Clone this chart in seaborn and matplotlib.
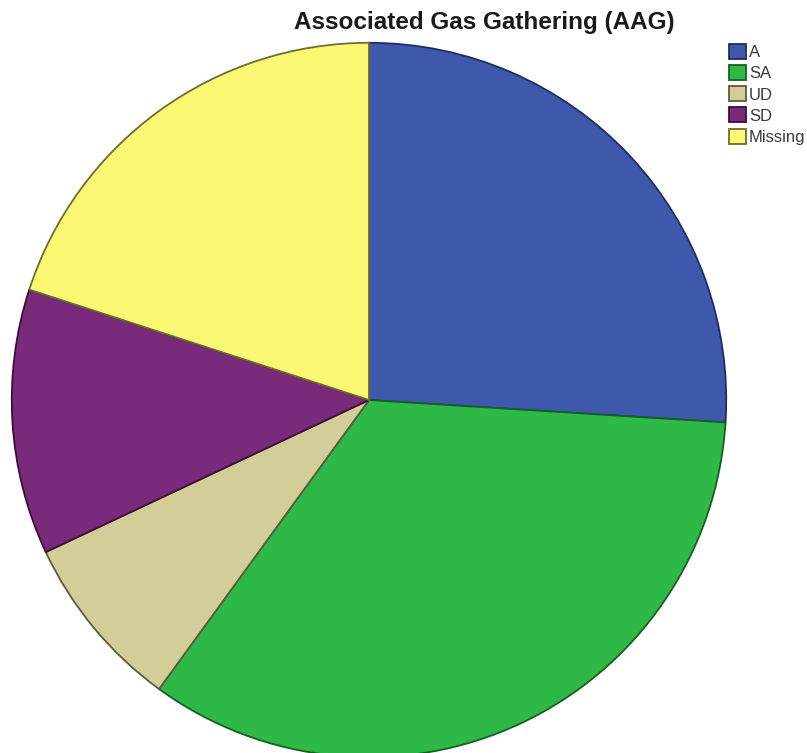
import numpy as np
import pandas as pd
import matplotlib as mpl
import matplotlib.pyplot as plt
import seaborn as sns
sns.set_theme(style="white")

# 数据
categories = ["A", "SA", "UD", "SD", "Missing"]
counts = [13, 17, 4, 6, 10]
fill_colors = ["#3E58AC", "#2EB848", "#D3CE97", "#7A2A7A", "#FBF873"]
edge_colors = ["#1F2C66", "#176024", "#5E5B3C", "#3A0F3A", "#6E6C30"]
title = "Associated Gas Gathering (AAG)"

df = pd.DataFrame({"category": categories, "count": counts})

fig = plt.figure(figsize=(8.07, 7.53), dpi=100)
ax = fig.add_axes([10 / 807, -6 / 753, 718 / 807, 718 / 753])

wedges, _ = ax.pie(df["count"], colors=fill_colors, startangle=90,
                   counterclock=False, radius=1.0,
                   wedgeprops=dict(linewidth=1.3))
for w, ec in zip(wedges, edge_colors):
    w.set_edgecolor(ec)
ax.set_xlim(-1.005, 1.005)
ax.set_ylim(-1.005, 1.005)
ax.set_aspect("equal")
ax.axis("off")

fig.text(484 / 807, 1 - 23 / 753, title, ha="center", va="center",
         fontsize=17.5, fontweight="bold", family="Liberation Sans", color="#1a1a1a")

leg = fig.legend(wedges, categories, loc="upper left",
                 bbox_to_anchor=(729 / 807, 1 - 44 / 753), frameon=False,
                 handlelength=1.0, handleheight=1.0,
                 handletextpad=0.2, labelspacing=0.3, borderpad=0,
                 borderaxespad=0, prop={"family": "Liberation Sans", "size": 12})
for t in leg.get_texts():
    t.set_color("#3a3a3a")

fig.savefig("out.png", dpi=100)
